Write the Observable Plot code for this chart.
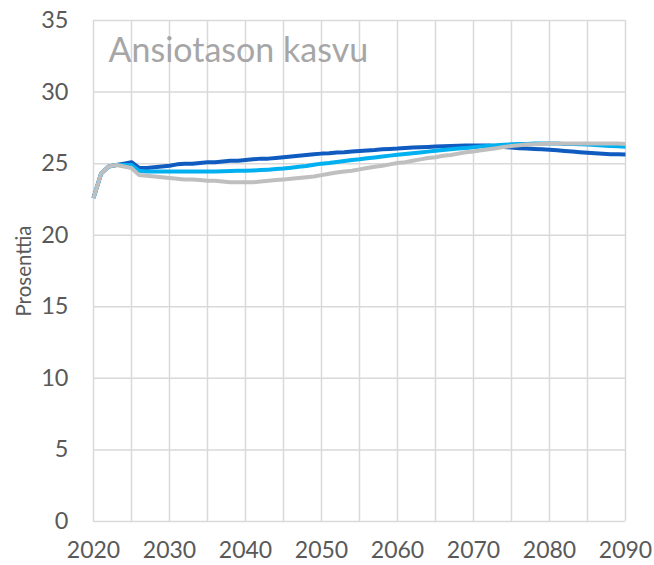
<!DOCTYPE html>
<html>
<head>
<meta charset="utf-8">
<script src="https://cdn.jsdelivr.net/npm/d3@7"></script>
<script src="https://cdn.jsdelivr.net/npm/@observablehq/plot@0.6"></script>
<style>
  html, body { margin: 0; padding: 0; background: #fff; }
  #chart svg { display: block; }
</style>
</head>
<body>
<div id="chart"></div>
<script>
// Chart texts
const title = "Ansiotason kasvu";
const yLabel = "Prosenttia";

// Years 2020..2090 (annual)
const years = [
  2020,2021,2022,2023,2024,2025,2026,2027,2028,2029,
  2030,2031,2032,2033,2034,2035,2036,2037,2038,2039,
  2040,2041,2042,2043,2044,2045,2046,2047,2048,2049,
  2050,2051,2052,2053,2054,2055,2056,2057,2058,2059,
  2060,2061,2062,2063,2064,2065,2066,2067,2068,2069,
  2070,2071,2072,2073,2074,2075,2076,2077,2078,2079,
  2080,2081,2082,2083,2084,2085,2086,2087,2088,2089,
  2090
];

// Dark blue series
const seriesDark = [
  22.6,24.3,24.8,24.9,25.0,25.1,24.7,24.7,24.75,24.8,
  24.85,24.95,25.0,25.0,25.05,25.1,25.1,25.15,25.2,25.2,
  25.25,25.3,25.35,25.35,25.4,25.45,25.5,25.55,25.6,25.65,
  25.7,25.72,25.78,25.8,25.85,25.88,25.92,25.95,26.0,26.02,
  26.05,26.1,26.12,26.15,26.17,26.2,26.22,26.24,26.25,26.26,
  26.27,26.27,26.26,26.22,26.17,26.12,26.08,26.05,26.02,26.0,
  25.97,25.93,25.88,25.84,25.8,25.76,25.72,25.69,25.66,25.65,
  25.64
];

// Light blue series
const seriesLight = [
  22.6,24.3,24.8,24.9,24.9,24.9,24.5,24.45,24.45,24.45,
  24.45,24.45,24.45,24.45,24.45,24.45,24.45,24.47,24.48,24.5,
  24.5,24.52,24.55,24.58,24.62,24.66,24.72,24.78,24.84,24.92,
  25.0,25.05,25.12,25.18,25.25,25.3,25.37,25.43,25.5,25.56,
  25.62,25.68,25.73,25.78,25.84,25.9,25.95,26.0,26.05,26.1,
  26.15,26.2,26.25,26.28,26.32,26.35,26.37,26.38,26.4,26.4,
  26.4,26.4,26.38,26.37,26.35,26.33,26.3,26.27,26.24,26.21,
  26.18
];

// Grey series
const seriesGrey = [
  22.6,24.3,24.8,24.9,24.8,24.7,24.2,24.15,24.1,24.05,
  24.0,23.95,23.9,23.9,23.85,23.8,23.8,23.75,23.7,23.7,
  23.7,23.7,23.75,23.8,23.85,23.9,23.95,24.0,24.05,24.1,
  24.2,24.3,24.38,24.45,24.5,24.6,24.7,24.78,24.85,24.95,
  25.05,25.1,25.2,25.3,25.4,25.45,25.55,25.6,25.7,25.8,
  25.85,25.93,26.0,26.08,26.17,26.23,26.28,26.33,26.35,26.38,
  26.4,26.4,26.4,26.4,26.4,26.4,26.4,26.4,26.4,26.4,
  26.38
];

const seriesNames = ["Sarja 1", "Sarja 2", "Sarja 3"];
const seriesColors = ["#0f5bc0", "#00b0f0", "#bfbfbf"];

// Axis ticks
const xTickLabels = [2020, 2030, 2040, 2050, 2060, 2070, 2080, 2090];
const xGrid = [2020,2025,2030,2035,2040,2045,2050,2055,2060,2065,2070,2075,2080,2085,2090];
const yTicks = [0, 5, 10, 15, 20, 25, 30, 35];

const allSeries = [seriesDark, seriesLight, seriesGrey];
const data = allSeries.flatMap((vals, i) =>
  years.map((yr, j) => ({year: yr, value: vals[j], series: seriesNames[i]}))
);

const chart = Plot.plot({
  width: 654,
  height: 565,
  marginLeft: 93,
  marginRight: 29,
  marginTop: 20,
  marginBottom: 44,
  style: {fontFamily: "Lato, 'Open Sans', sans-serif", background: "#fff", color: "#595959"},
  x: {domain: [2020, 2090]},
  y: {domain: [0, 35]},
  color: {domain: seriesNames, range: seriesColors},
  marks: [
    Plot.gridX(xGrid, {stroke: "#d9d9d9", strokeOpacity: 1, strokeWidth: 1.5}),
    Plot.gridY(yTicks, {stroke: "#d9d9d9", strokeOpacity: 1, strokeWidth: 1.5}),
    Plot.axisX(xTickLabels, {tickSize: 0, tickPadding: 20, tickFormat: d => String(d), fontSize: 23, fill: "#595959", label: null}),
    Plot.axisY(yTicks, {tickSize: 0, tickPadding: 25, fontSize: 23.5, fill: "#595959", label: null}),
    Plot.text([yLabel], {frameAnchor: "left", textAnchor: "middle", lineAnchor: "middle", rotate: -90, dx: -69, fontSize: 20.5, fill: "#595959"}),
    Plot.text([title], {frameAnchor: "top-left", textAnchor: "start", lineAnchor: "top", dx: 15, dy: 17, fontSize: 34, fill: "#a6a6a6"}),
    Plot.line(data, {x: "year", y: "value", z: "series", stroke: "series", strokeWidth: 4, strokeLinejoin: "round", strokeLinecap: "butt"})
  ]
});

document.getElementById("chart").appendChild(chart);
</script>
</body>
</html>
